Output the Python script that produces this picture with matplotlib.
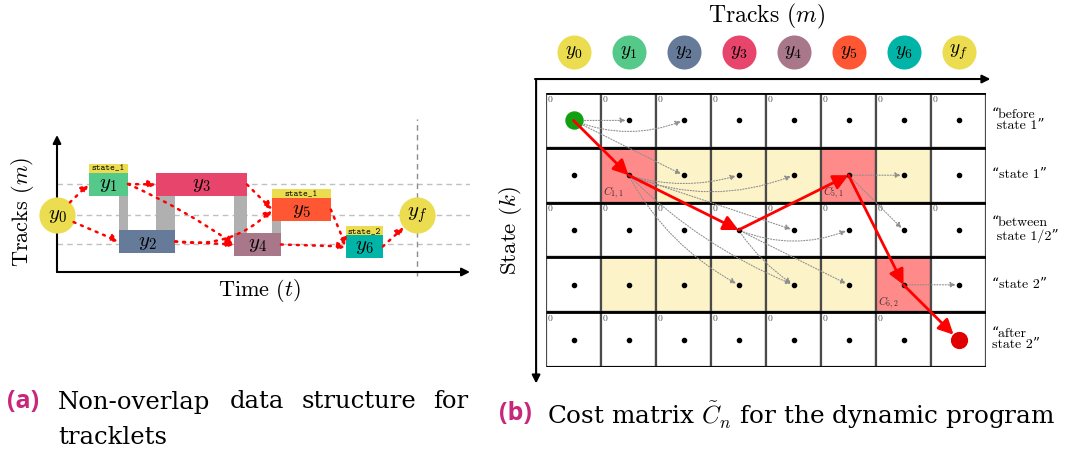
import matplotlib

matplotlib.use("Agg")

import matplotlib.pyplot as plt
from matplotlib.patches import Rectangle

plt.rcParams["mathtext.fontset"] = "cm"
plt.rcParams["axes.unicode_minus"] = False

W, H = 1066, 453
CM = ["cmr10", "DejaVu Serif"]
TT = ["cmtt10", "DejaVu Sans Mono"]
RED = "#ff0000"
YELLOW = "#ecdc50"

# ---- panel (a): tracklets along time ----
TRACKLETS = ["y_1", "y_2", "y_3", "y_4", "y_5", "y_6"]
T_START = [0.77, 1.50, 2.40, 4.29, 5.21, 7.00]
T_END = [1.72, 2.86, 4.60, 5.42, 6.63, 7.89]
LEVEL = [8.8, 3.05, 8.75, 2.75, 6.25, 2.55]
TRACK_COLORS = ["#55c98a", "#667a99", "#e8456c", "#a8778a", "#ff5733", "#00b5a8"]
STATE_TAGS = {0: "state_1", 4: "state_1", 5: "state_2"}
TRACK_LINES = [8.8, 5.7, 2.8]
T_SOURCE, T_SINK, Y_ENDS = 0.0, 8.72, 5.7
OVERLAPS = [(0, 1), (2, 1), (2, 3), (4, 3)]  # (upper, lower)
LINKS = [("s", 0, 0.0), ("s", 1, 0.0), (0, 2, 0.0), (0, 3, -0.05), (1, 3, 0.0),
         (1, 4, 0.25), (2, 4, 0.0), (3, 5, 0.0), (4, 5, 0.0), (5, "f", 0.0)]

# ---- panel (b): cost matrix ----
NODES = ["y_0", "y_1", "y_2", "y_3", "y_4", "y_5", "y_6", "y_f"]
NODE_COLORS = [YELLOW] + TRACK_COLORS + [YELLOW]
STATES = ["\u201cbefore\n state 1\u201d", "\u201cstate 1\u201d",
          "\u201cbetween\n state 1/2\u201d", "\u201cstate 2\u201d",
          "\u201cafter\nstate 2\u201d"]
CELL_KIND = ["wwwwwwww",
             "wryyyryw",
             "wwwwwwww",
             "wyyyyyrw",
             "wwwwwwww"]
KIND_COLORS = {"w": "white", "y": "#fdf3c8", "r": "#ff8a8a"}
ZERO_ROWS = [0, 2, 4]
PATH = [(0, 0), (1, 1), (2, 3), (1, 5), (3, 6), (4, 7)]
COST_LABELS = {(1, 1): "C_{1,1}", (1, 5): "C_{5,1}", (3, 6): "C_{6,2}"}
TRANSITIONS = [((0, 0), (0, 1), 0.0), ((0, 0), (0, 2), 0.2), ((0, 0), (1, 2), 0.0),
               ((1, 1), (1, 3), 0.15), ((1, 1), (1, 4), 0.2), ((1, 1), (2, 4), 0.0),
               ((1, 1), (3, 3), 0.15), ((1, 1), (3, 4), 0.1),
               ((2, 3), (2, 5), 0.2), ((2, 3), (3, 4), 0.1), ((2, 3), (3, 5), 0.0),
               ((1, 5), (1, 6), 0.0), ((1, 5), (2, 6), 0.0), ((3, 6), (3, 7), 0.0)]

fig = plt.figure(figsize=(W / 100, H / 100), dpi=100)
fig.patch.set_facecolor("white")

# ================= panel (a) =================
ax = fig.add_axes([57 / W, (H - 272) / H, 413 / W, 137 / H])
ax.set_xlim(0, 10)
ax.set_ylim(0, 13.7)
ax.axis("off")

for yl in TRACK_LINES:
    ax.plot([0, 10], [yl, yl], color="#c0c0c0", lw=1, ls=(0, (4, 3)), zorder=1)
ax.plot([T_SINK, T_SINK], [-0.4, 15.3], color="#8c8c8c", lw=1, ls=(0, (4, 3)),
        zorder=1, clip_on=False)

arrow_k = dict(arrowstyle="-|>", color="black", lw=1.5, mutation_scale=12,
               shrinkA=0, shrinkB=0)
ax.annotate("", xy=(0, 13.7), xytext=(0, 0), arrowprops=arrow_k, annotation_clip=False)
ax.annotate("", xy=(10, 0), xytext=(0, 0), arrowprops=arrow_k, annotation_clip=False)

bh = 2.3
for up, lo in OVERLAPS:
    x0 = max(T_START[up], T_START[lo])
    x1 = min(T_END[up], T_END[lo])
    ax.add_patch(Rectangle((x0, LEVEL[lo] - bh / 2), x1 - x0, LEVEL[up] - LEVEL[lo],
                           facecolor="#b0b0b0", edgecolor="none", zorder=2))

for i, name in enumerate(TRACKLETS):
    ax.add_patch(Rectangle((T_START[i], LEVEL[i] - bh / 2), T_END[i] - T_START[i], bh,
                           facecolor=TRACK_COLORS[i], edgecolor="none", zorder=3))
    ax.text((T_START[i] + T_END[i]) / 2, LEVEL[i], f"${name}$", fontsize=15,
            ha="center", va="center", zorder=5)
    if i in STATE_TAGS:
        ax.add_patch(Rectangle((T_START[i], LEVEL[i] + bh / 2), T_END[i] - T_START[i], 0.9,
                               facecolor=YELLOW, edgecolor="none", zorder=3))
        ax.text((T_START[i] + T_END[i]) / 2, LEVEL[i] + bh / 2 + 0.42, STATE_TAGS[i],
                family=TT, fontsize=6.5, ha="center", va="center", zorder=5)

ax.scatter([T_SOURCE, T_SINK], [Y_ENDS, Y_ENDS], s=680, color=YELLOW, zorder=3,
           clip_on=False, linewidths=0)
ax.text(T_SOURCE, Y_ENDS, "$y_0$", fontsize=15, ha="center", va="center", zorder=5)
ax.text(T_SINK, Y_ENDS, "$y_f$", fontsize=15, ha="center", va="center", zorder=5)

for a, b, rad in LINKS:
    if a == "s":
        start, sa = (T_SOURCE, Y_ENDS), 13
    else:
        start, sa = (T_END[a], LEVEL[a]), 0
    if b == "f":
        end, sb = (T_SINK, Y_ENDS), 13
    else:
        end, sb = (T_START[b], LEVEL[b]), 0
    ax.annotate("", xy=end, xytext=start, annotation_clip=False, zorder=4,
                arrowprops=dict(arrowstyle="-|>", color=RED, lw=1.8, ls=(0, (0.8, 2.4)),
                                mutation_scale=11, shrinkA=sa, shrinkB=sb,
                                connectionstyle=f"arc3,rad={rad}"))

fig.text(22 / W, 1 - 212 / H, "Tracks $(m)$", family=CM, fontsize=16, rotation=90,
         ha="center", va="center")
fig.text(260 / W, 1 - 290 / H, "Time $(t)$", family=CM, fontsize=16,
         ha="center", va="center")

# ================= panel (b) =================
bx = fig.add_axes([546 / W, (H - 367) / H, 440 / W, 274 / H])
bx.set_xlim(0, 8)
bx.set_ylim(5, 0)
bx.axis("off")

for r, row in enumerate(CELL_KIND):
    for c, kind in enumerate(row):
        bx.add_patch(Rectangle((c, r), 1, 1, facecolor=KIND_COLORS[kind],
                               edgecolor="#4a4a4a", lw=1.6, zorder=1))
bx.hlines(range(len(CELL_KIND) + 1), 0, len(NODES), color="black", lw=2, zorder=2)

for r in ZERO_ROWS:
    for c in range(len(NODES)):
        if (r, c) == PATH[-1]:
            continue
        bx.text(c + 0.03, r + 0.04, "0", family=CM, fontsize=7, color="#555555",
                ha="left", va="top", zorder=3)

dots = [(c + 0.5, r + 0.5) for r in range(len(CELL_KIND)) for c in range(len(NODES))
        if (r, c) not in (PATH[0], PATH[-1])]
bx.scatter([d[0] for d in dots], [d[1] for d in dots], s=9, color="black", zorder=5)
bx.scatter([PATH[0][1] + 0.5], [PATH[0][0] + 0.5], s=150, color="#10a010", zorder=6)
bx.scatter([PATH[-1][1] + 0.5], [PATH[-1][0] + 0.5], s=130, color="#e00000", zorder=6)

for (r, c), lab in COST_LABELS.items():
    bx.text(c + 0.03, r + 0.97, f"${lab}$", fontsize=8, color="#333333",
            ha="left", va="bottom", zorder=3)

for (r0, c0), (r1, c1), rad in TRANSITIONS:
    bx.annotate("", xy=(c1 + 0.5, r1 + 0.5), xytext=(c0 + 0.5, r0 + 0.5), zorder=4,
                arrowprops=dict(arrowstyle="-|>", color="#8f8f8f", lw=0.8, ls=(0, (1, 1.5)),
                                mutation_scale=8, shrinkA=2, shrinkB=2,
                                connectionstyle=f"arc3,rad={rad}"))

for (r0, c0), (r1, c1) in zip(PATH[:-1], PATH[1:]):
    bx.annotate("", xy=(c1 + 0.5, r1 + 0.5), xytext=(c0 + 0.5, r0 + 0.5), zorder=7,
                arrowprops=dict(arrowstyle="-|>,head_length=0.5,head_width=0.25",
                                color=RED, lw=2, mutation_scale=18,
                                shrinkA=0, shrinkB=5 if (r1, c1) == PATH[-1] else 0))

bx.annotate("", xy=(8.08, -0.255), xytext=(-0.2, -0.255), arrowprops=arrow_k,
            annotation_clip=False)
bx.annotate("", xy=(-0.18, 5.3), xytext=(-0.18, -0.255), arrowprops=arrow_k,
            annotation_clip=False)

for c, name in enumerate(NODES):
    bx.scatter([c + 0.5], [-0.75], s=600, color=NODE_COLORS[c], clip_on=False,
               linewidths=0, zorder=3)
    bx.text(c + 0.5, -0.75, f"${name}$", fontsize=14, ha="center", va="center", zorder=4)

bx.text(4.0, -1.39, "Tracks $(m)$", family=CM, fontsize=17, ha="center", va="center")
bx.text(-0.65, 2.5, "State $(k)$", family=CM, fontsize=16.5, rotation=90,
        ha="center", va="center")
for r, lab in enumerate(STATES):
    bx.text(8.11, r + 0.5, lab, family=CM, fontsize=10, ha="left", va="center",
            linespacing=0.95)

# ================= captions =================
MAGENTA = "#c8287c"
fig.text(7 / W, 1 - 401 / H, "(a)", family="Open Sans", fontweight="bold", fontsize=18,
         color=MAGENTA, ha="left", va="center")
for word, x in [("Non-overlap", 58), ("data", 230), ("structure", 302), ("for", 433)]:
    fig.text(x / W, 1 - 402 / H, word, family="DejaVu Serif", fontsize=17.5,
             ha="left", va="center")
fig.text(58 / W, 1 - 437 / H, "tracklets", family="DejaVu Serif", fontsize=17.5,
         ha="left", va="center")
fig.text(499 / W, 1 - 414 / H, "(b)", family="Open Sans", fontweight="bold", fontsize=18,
         color=MAGENTA, ha="left", va="center")
fig.text(547 / W, 1 - 415 / H, r"Cost matrix $\tilde{C}_n$ for the dynamic program",
         family="DejaVu Serif", fontsize=17.8, ha="left", va="center")

fig.savefig("out.png", dpi=100, facecolor="white")
